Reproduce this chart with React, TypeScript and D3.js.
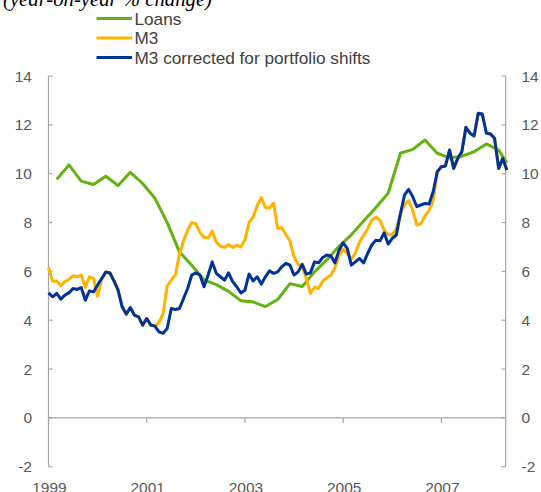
import React from "react";
import * as d3 from "d3";

// monthly series, starting January 1999
const m3Values = [
  6.16, 5.6, 5.61, 5.41, 5.58, 5.67, 5.82, 5.78, 5.85, 5.34,
  5.78, 5.71, 4.99, 5.68, 5.93, 5.94, 5.61, 5.23, 4.55, 4.25,
  4.52, 4.21, 4.14, 3.8, 4.07, 3.8, 3.76, 3.9, 4.28, 5.4,
  5.65, 5.85, 6.7, 7.25, 7.7, 8.0, 7.95, 7.6, 7.4, 7.37,
  7.65, 7.2, 7.03, 6.98, 7.1, 6.98, 7.08, 7.0, 7.3, 8.0,
  8.22, 8.7, 9.02, 8.62, 8.6, 8.8, 7.75, 7.8, 7.5, 7.25,
  6.6, 6.28, 6.2, 5.7, 5.1, 5.35, 5.3, 5.6, 5.74, 5.85,
  6.15, 6.65, 6.9, 6.74, 6.5, 6.75, 7.2, 7.48, 7.75, 8.1,
  8.22, 8.1, 7.7, 7.5, 7.5, 7.75, 8.35, 8.75, 8.9, 8.5,
  7.9, 7.95, 8.28, 8.5, 8.9, 10.08, 10.29, 10.32, 10.97, 10.22,
  10.63, 10.9, 11.9, 11.66, 11.55, 12.48, 12.45, 11.66, 11.63, 11.45,
  10.22, 10.63, 10.15,
];

const m3CorrectedValues = [
  5.12, 4.96, 5.1, 4.86, 5.03, 5.12, 5.3, 5.26, 5.34, 4.82,
  5.2, 5.16, 5.44, 5.71, 5.98, 5.94, 5.61, 5.23, 4.55, 4.25,
  4.52, 4.21, 4.14, 3.8, 4.07, 3.8, 3.76, 3.52, 3.46, 3.66,
  4.48, 4.44, 4.48, 4.89, 5.3, 5.85, 5.94, 5.85, 5.37, 5.85,
  6.39, 5.92, 5.78, 5.64, 5.94, 5.58, 5.37, 5.12, 5.23, 5.89,
  5.61, 5.78, 5.48, 5.78, 6.02, 5.92, 5.98, 6.19, 6.33, 6.26,
  5.85, 5.98, 6.29, 5.89, 5.94, 6.39, 6.35, 6.57, 6.67, 6.63,
  6.35, 6.87, 7.17, 6.94, 6.26, 6.39, 6.53, 6.35, 6.74, 7.08,
  7.28, 7.25, 7.58, 7.12, 7.35, 7.49, 8.37, 9.13, 9.36, 9.06,
  8.65, 8.72, 8.78, 8.76, 9.26, 10.08, 10.29, 10.32, 10.97, 10.22,
  10.63, 10.9, 11.9, 11.66, 11.55, 12.48, 12.45, 11.66, 11.63, 11.45,
  10.22, 10.63, 10.15,
];

// loans: month index (0 = Jan 1999) and value
const loanMonths = [
  2, 5, 8, 11, 14, 17, 20, 23, 26, 29, 32, 35, 38, 41, 44, 47, 50, 53, 56,
  59, 62, 65, 68, 71, 74, 77, 80, 83, 86, 89, 92, 95, 98, 101, 104, 107, 110, 112,
];
const loanValues = [
  9.77, 10.36, 9.7, 9.56, 9.9, 9.52, 10.06, 9.6, 9.0, 8.0, 6.8, 6.25, 5.65,
  5.46, 5.18, 4.8, 4.75, 4.56, 4.85, 5.5, 5.38, 5.98, 6.47, 7.03, 7.5, 8.06,
  8.62, 9.2, 10.84, 11.0, 11.38, 10.84, 10.65, 10.72, 10.9, 11.22, 10.97, 10.45,
];

const yTicks = [-2, 0, 2, 4, 6, 8, 10, 12, 14];
const xTickYears = [1999, 2001, 2003, 2005, 2007];

const legendItems = [
  { label: "Loans", color: "#63B20F" },
  { label: "M3", color: "#FFB300" },
  { label: "M3 corrected for portfolio shifts", color: "#003399" },
];

const title = "(year-on-year % change)";

export default function App() {
  const W = 541;
  const H = 492;
  const left = 48.5;
  const right = 505.7;
  const x = d3.scaleLinear().domain([1999, 2008.31]).range([left, right]);
  const y = d3.scaleLinear().domain([-2, 14]).range([466.7, 76.1]);
  const mx = (m: number) => x(1999 + m / 12);

  type P = [number, number];
  const line = d3
    .line<P>()
    .x((d) => mx(d[0]))
    .y((d) => y(d[1]));

  const loans: P[] = loanMonths.map((m, i) => [m, loanValues[i]]);
  const m3: P[] = m3Values.map((v, i) => [i, v]);
  const m3c: P[] = m3CorrectedValues.map((v, i) => [i, v]);

  const axisColor = "#A6A6A6";
  const tickFont = "Liberation Sans, Arial, sans-serif";
  const labelColor = "#595959";

  const series = [
    { data: loans, color: legendItems[0].color },
    { data: m3, color: legendItems[1].color },
    { data: m3c, color: legendItems[2].color },
  ];

  return (
    <svg
      width={W}
      height={H}
      style={{ position: "absolute", left: 0, top: 0, background: "#fff" }}
    >
      <text
        x={3}
        y={6}
        fontFamily="Liberation Serif, Times New Roman, serif"
        fontStyle="italic"
        fontSize={20.7}
        fill="#000"
        textLength={209}
        lengthAdjust="spacingAndGlyphs"
      >
        {title}
      </text>

      {legendItems.map((it, i) => (
        <g key={it.label}>
          <line
            x1={96.5}
            x2={132}
            y1={18.4 + i * 19.6}
            y2={18.4 + i * 19.6}
            stroke={it.color}
            strokeWidth={3}
          />
          <text
            x={134.5}
            y={24.8 + i * 19.6}
            fontFamily={tickFont}
            fontSize={17.2}
            fill="#404040"
          >
            {it.label}
          </text>
        </g>
      ))}

      {/* axes */}
      <line x1={left} x2={left} y1={y(14)} y2={y(-2)} stroke={axisColor} strokeWidth={1.2} />
      <line x1={right} x2={right} y1={y(14)} y2={y(-2)} stroke={axisColor} strokeWidth={1.2} />
      <line x1={left} x2={right} y1={y(0)} y2={y(0)} stroke={axisColor} strokeWidth={1.2} />
      {yTicks.map((t) => (
        <g key={t}>
          <line x1={left} x2={left + 4} y1={y(t)} y2={y(t)} stroke={axisColor} strokeWidth={1.2} />
          <line x1={right - 4} x2={right} y1={y(t)} y2={y(t)} stroke={axisColor} strokeWidth={1.2} />
          <text
            x={32}
            y={y(t) + 5.5}
            textAnchor="end"
            fontFamily={tickFont}
            fontSize={15.5}
            fill={labelColor}
          >
            {t}
          </text>
          <text
            x={521.5}
            y={y(t) + 5.5}
            textAnchor="start"
            fontFamily={tickFont}
            fontSize={15.5}
            fill={labelColor}
          >
            {t}
          </text>
        </g>
      ))}
      {xTickYears.map((yr) => (
        <g key={yr}>
          <line x1={x(yr)} x2={x(yr)} y1={y(0)} y2={y(0) + 5} stroke={axisColor} strokeWidth={1.2} />
          <text
            x={x(yr) + 1}
            y={493}
            textAnchor="middle"
            fontFamily={tickFont}
            fontSize={15.5}
            fill={labelColor}
          >
            {yr}
          </text>
        </g>
      ))}

      {series.map((s, i) => (
        <path
          key={i}
          d={line(s.data) || ""}
          fill="none"
          stroke={s.color}
          strokeWidth={3}
          strokeLinejoin="round"
          strokeLinecap="butt"
        />
      ))}
    </svg>
  );
}
